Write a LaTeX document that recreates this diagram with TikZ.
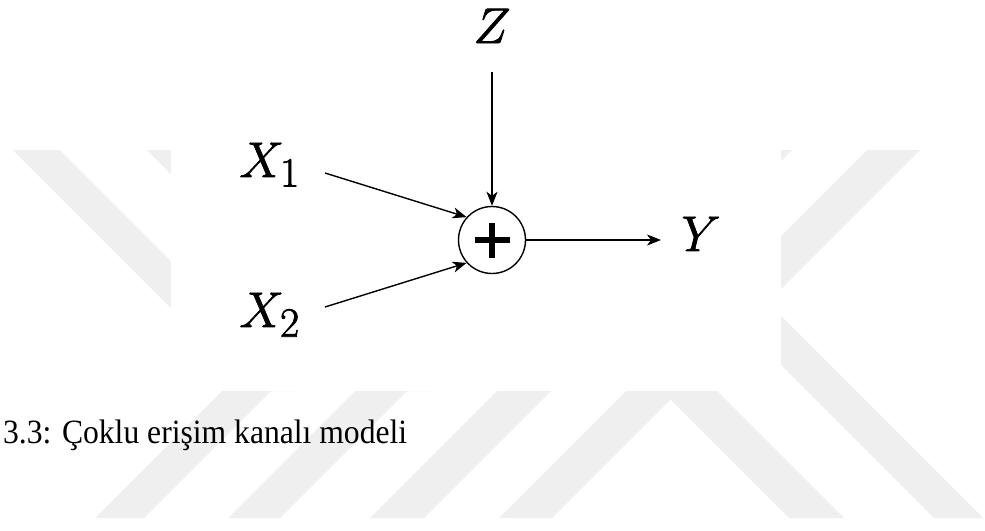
\documentclass[tikz,border=0pt]{standalone}
\usepackage{fontspec}
\newfontfamily\capfont{Liberation Serif}
\usetikzlibrary{arrows.meta}
\definecolor{wm}{RGB}{239,239,239}
\newcommand{\heavytext}[1]{\special{pdf:code 2 Tr 0.35 w}#1\special{pdf:code 0 Tr}}
\begin{document}
\begin{tikzpicture}[x=1pt,y=-1pt,
  mathlbl/.style={font=\Huge, scale=2.01, inner sep=0pt},
  conn/.style={line width=1.4pt, -{Stealth[length=14pt,width=11pt,inset=4pt]}},
  band/.style={fill=wm, draw=none}]
\useasboundingbox (0,0) rectangle (985,530);
\fill[white] (0,0) rectangle (985,530);
% watermark
\begin{scope}
\clip (0,150) rectangle (985,518);
\fill[band] (13,150) -- (60,150) -- (301,391) -- (254,391) -- cycle;
\fill[band] (147,150) -- (194,150) -- (435,391) -- (388,391) -- cycle;
\fill[band] (566,150) -- (615,150) -- (983,518) -- (934,518) -- cycle;
\fill[band] (571,300) -- (626,300) -- (844,518) -- (789,518) -- cycle;
\fill[band] (867,150) -- (920,150) -- (552,518) -- (499,518) -- cycle;
\fill[band] (738,150) -- (792,150) -- (424,518) -- (370,518) -- cycle;
\fill[band] (446,300) -- (498,300) -- (280,518) -- (228,518) -- cycle;
\fill[band] (313,300) -- (362,300) -- (144,518) -- (95,518) -- cycle;
\end{scope}
\fill[white] (171,0) rectangle (781,391);
% diagram
\node[circle, draw, line width=1.4pt, minimum size=67pt, inner sep=0pt] (sum) at (492,240) {};
\draw[line width=6.5pt] (474.5,240) -- (509.5,240);
\draw[line width=6.5pt] (492,222.5) -- (492,257.5);
\node[mathlbl, anchor=base west] (x1) at (239,177) {\heavytext{$X_1$}};
\node[mathlbl, anchor=base west] (x2) at (239,327) {\heavytext{$X_2$}};
\node[mathlbl, anchor=base west] (y) at (681,251) {\heavytext{$Y$}};
\node[mathlbl, anchor=base] (z) at (492,43) {\heavytext{$Z$}};
\coordinate (zs) at (492,72);
\coordinate (x1s) at (325,173);
\coordinate (x2s) at (325,307);
\coordinate (ye) at (661,240);
\draw[conn] (zs) -- (sum.north);
\draw[conn] (x1s) -- (sum.138);
\draw[conn] (x2s) -- (sum.222);
\draw[conn] (sum.east) -- (ye);
\node[anchor=base west, inner sep=0pt, xscale=0.93, font=\capfont\fontsize{34}{40}\selectfont] (cap) at (3,443) {3.3: Çoklu erişim kanalı modeli};
\end{tikzpicture}
\end{document}
